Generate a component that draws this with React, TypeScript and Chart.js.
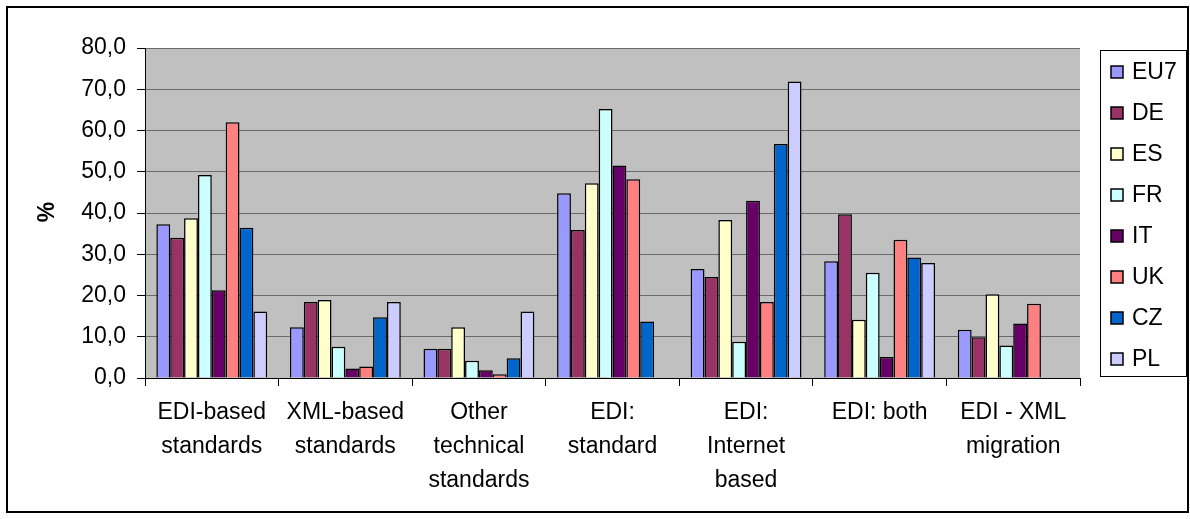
import React, { useEffect, useRef } from "react";
import { Chart, registerables } from "chart.js";

Chart.register(...registerables);

const categories: string[][] = [
  ["EDI-based", "standards"],
  ["XML-based", "standards"],
  ["Other", "technical", "standards"],
  ["EDI:", "standard"],
  ["EDI:", "Internet", "based"],
  ["EDI: both"],
  ["EDI - XML", "migration"],
];

const seriesNames = ["EU7", "DE", "ES", "FR", "IT", "UK", "CZ", "PL"];
const seriesColors = ["#9999FF", "#993366", "#FFFFCC", "#CCFFFF", "#660066", "#FF8080", "#0066CC", "#CCCCFF"];

const eu7 = [37.3, 12.3, 7.1, 44.8, 26.4, 28.3, 11.7];
const de = [34.0, 18.4, 7.1, 35.9, 24.5, 39.7, 9.9];
const es = [38.7, 18.9, 12.3, 47.2, 38.3, 14.1, 20.3];
const fr = [49.2, 7.6, 4.2, 65.2, 8.8, 25.5, 7.9];
const it = [21.3, 2.3, 1.9, 51.5, 43.0, 5.1, 13.2];
const uk = [62.0, 2.8, 0.9, 48.2, 18.4, 33.5, 18.0];
const cz = [36.4, 14.7, 4.8, 13.7, 56.7, 29.2, null];
const pl = [16.1, 18.4, 16.1, null, 71.9, 27.9, null];

const seriesValues = [eu7, de, es, fr, it, uk, cz, pl];

const FONT = "'Liberation Sans', Arial, sans-serif";

export default function App() {
  const ref = useRef<HTMLCanvasElement | null>(null);

  useEffect(() => {
    if (!ref.current) return;

    const decor = {
      id: "decor",
      beforeDraw(chart: any) {
        const { ctx, chartArea } = chart;
        ctx.save();
        ctx.fillStyle = "#FFFFFF";
        ctx.fillRect(0, 0, chart.width, chart.height);
        ctx.fillStyle = "#C0C0C0";
        ctx.fillRect(chartArea.left, chartArea.top, chartArea.right - chartArea.left, chartArea.bottom - chartArea.top);
        ctx.restore();
      },
      afterDraw(chart: any) {
        const { ctx } = chart;
        ctx.save();
        // outer border
        ctx.strokeStyle = "#000";
        ctx.lineWidth = 2;
        ctx.strokeRect(7, 7, 1181, 505);
        // y title
        ctx.save();
        ctx.translate(48, 212);
        ctx.rotate(-Math.PI / 2);
        ctx.font = `bold 23px ${FONT}`;
        ctx.fillStyle = "#000";
        ctx.textAlign = "center";
        ctx.textBaseline = "middle";
        ctx.fillText("%", 0, 0);
        ctx.restore();
        // legend
        ctx.lineWidth = 1;
        ctx.strokeStyle = "#000";
        ctx.strokeRect(1100.5, 50.5, 86, 326);
        ctx.font = `23px ${FONT}`;
        ctx.textBaseline = "middle";
        ctx.textAlign = "left";
        chart.data.datasets.forEach((ds: any, i: number) => {
          const cy = 72 + i * 41;
          ctx.fillStyle = ds.backgroundColor;
          ctx.fillRect(1111, cy - 6, 12, 12);
          ctx.lineWidth = 1.5;
          ctx.strokeStyle = "#000";
          ctx.strokeRect(1111, cy - 6, 12, 12);
          ctx.fillStyle = "#000";
          ctx.fillText(ds.label, 1132, cy + 1);
        });
        ctx.restore();
      },
    };

    const chart = new Chart(ref.current, {
      type: "bar",
      data: {
        labels: categories,
        datasets: seriesNames.map((name, i) => ({
          label: name,
          data: seriesValues[i],
          backgroundColor: seriesColors[i],
          borderColor: "#000000",
          borderWidth: 1.5,
          categoryPercentage: 0.83,
          barPercentage: 1.0,
        })),
      },
      options: {
        responsive: false,
        animation: false,
        layout: { padding: { left: 0, right: 110, top: 48, bottom: 0 } },
        plugins: {
          legend: { display: false },
          tooltip: { enabled: false },
        },
        scales: {
          x: {
            afterFit: (s: any) => {
              s.height = 141;
            },
            grid: {
              drawOnChartArea: false,
              drawTicks: true,
              tickLength: 8,
              color: "#000000",
              offset: true,
            },
            border: { color: "#000000", width: 1 },
            ticks: {
              color: "#000000",
              padding: 10,
              maxRotation: 0,
              autoSkip: false,
              font: { family: FONT, size: 23, lineHeight: "34px" },
            },
          },
          y: {
            min: 0,
            max: 80,
            afterFit: (s: any) => {
              s.width = 145;
            },
            grid: {
              color: "#6a6a6a",
              lineWidth: 1,
              drawTicks: true,
              tickLength: 8,
              tickColor: "#000000",
            },
            border: { color: "#000000", width: 1 },
            ticks: {
              stepSize: 10,
              color: "#000000",
              padding: 11,
              font: { family: FONT, size: 23 },
              callback: (v: any) => Number(v).toFixed(1).replace(".", ","),
            },
          },
        },
      },
      plugins: [decor],
    });

    return () => chart.destroy();
  }, []);

  return (
    <div style={{ position: "fixed", left: 0, top: 0, width: 1190, height: 519, background: "#fff" }}>
      <canvas ref={ref} width={1190} height={519} style={{ display: "block", width: 1190, height: 519 }} />
    </div>
  );
}
